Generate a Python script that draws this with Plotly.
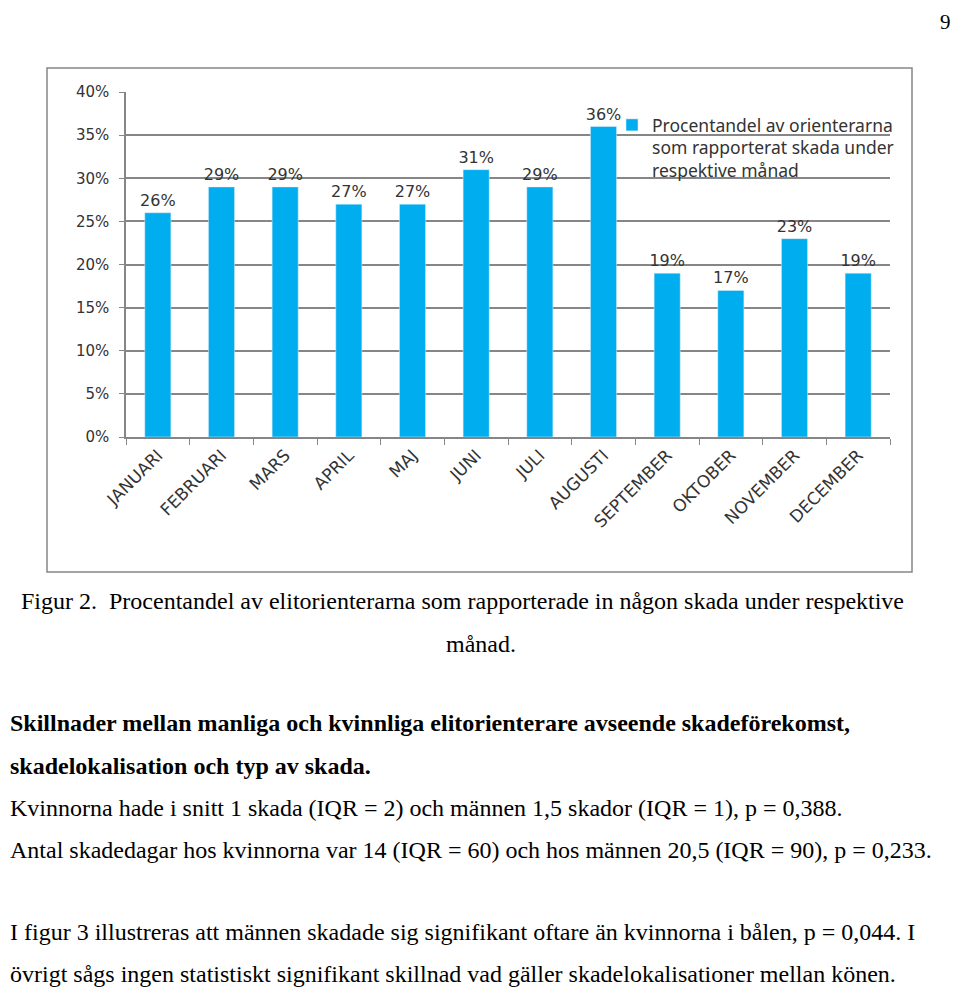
import plotly.graph_objects as go

# the page body has an 8px margin, so the figure is drawn 8px in from the corner
PAD = 8
W, H = 960 - PAD, 987 - PAD

months = ["JANUARI", "FEBRUARI", "MARS", "APRIL", "MAJ", "JUNI", "JULI",
          "AUGUSTI", "SEPTEMBER", "OKTOBER", "NOVEMBER", "DECEMBER"]
share_pct = [26, 29, 29, 27, 27, 31, 29, 36, 19, 17, 23, 19]
y_ticks = [0, 5, 10, 15, 20, 25, 30, 35, 40]
legend_name = "Procentandel av orienterarna<br>som rapporterat skada under<br>respektive månad"

page_lines = [
    ("Figur 2.  Procentandel av elitorienterarna som rapporterade in någon skada under respektive", 19, 601, False),
    ("månad.", 444, 644, False),
    ("Skillnader mellan manliga och kvinnliga elitorienterare avseende skadeförekomst,", 8, 723, True),
    ("skadelokalisation och typ av skada.", 8, 766, True),
    ("Kvinnorna hade i snitt 1 skada (IQR = 2) och männen 1,5 skador (IQR = 1), p = 0,388.", 8, 808, False),
    ("Antal skadedagar hos kvinnorna var 14 (IQR = 60) och hos männen 20,5 (IQR = 90), p = 0,233.", 8, 850, False),
    ("I figur 3 illustreras att männen skadade sig signifikant oftare än kvinnorna i bålen, p = 0,044. I", 8, 932, False),
    ("övrigt sågs ingen statistiskt signifikant skillnad vad gäller skadelokalisationer mellan könen.", 8, 974, False),
]


def px_x(x):
    return (x - PAD) / W


def px_y(y):
    return 1 - (y - PAD) / H


chart_font = "DejaVu Sans"
grey = "#868686"
text_grey = "#333333"

fig = go.Figure()
fig.add_trace(go.Bar(
    x=months, y=share_pct, name=legend_name,
    marker_color="#00AEEF",
    texttemplate="%{y:.0f}%", textposition="outside",
    textfont=dict(family=chart_font, size=16, color=text_grey),
    constraintext="none",
    cliponaxis=False,
))

# outer chart frame
fig.add_shape(type="rect", xref="paper", yref="paper",
              x0=px_x(47), x1=px_x(912), y0=px_y(572), y1=px_y(68),
              line=dict(color=grey, width=1.5), layer="below")

for text, x, y, bold in page_lines:
    fig.add_annotation(
        text=f"<b>{text}</b>" if bold else text,
        xref="paper", yref="paper", x=px_x(x), y=px_y(y),
        xanchor="left", yanchor="middle", showarrow=False,
        font=dict(family="Liberation Serif", size=24, color="black"),
    )

# page number
fig.add_annotation(text="9", xref="paper", yref="paper", x=px_x(945), y=px_y(8),
                   xanchor="center", yanchor="top", showarrow=False,
                   font=dict(family="Liberation Serif", size=21, color="black"))

fig.update_layout(
    width=W, height=H,
    margin=dict(l=0, r=0, t=0, b=0),
    paper_bgcolor="white", plot_bgcolor="white",
    bargap=0.59,
    showlegend=True,
    legend=dict(x=px_x(612), y=px_y(107), xanchor="left", yanchor="top",
                bgcolor="rgba(0,0,0,0)", valign="top",
                font=dict(family="Noto Sans", size=17.5, color=text_grey),
                itemwidth=30, tracegroupgap=0),
    xaxis=dict(
        domain=[px_x(126), px_x(890)],
        automargin=False,
        showline=True, linecolor=grey, linewidth=1.5,
        ticks="outside", tickson="boundaries", ticklen=6, tickcolor=grey,
        tickangle=-45,
        tickfont=dict(family=chart_font, size=17, color=text_grey),
        showgrid=False,
    ),
    yaxis=dict(
        domain=[px_y(437), px_y(92)],
        anchor="x",
        automargin=False,
        range=[0, 40], tickvals=y_ticks, ticktext=[f"{v}%" for v in y_ticks],
        showline=True, linecolor=grey, linewidth=1.5,
        showgrid=True, gridcolor=grey, gridwidth=1.5,
        ticks="outside", ticklen=5, tickcolor=grey, ticklabelstandoff=7,
        tickfont=dict(family=chart_font, size=15, color=text_grey),
        zeroline=False,
    ),
)

fig.write_html("out.html")
